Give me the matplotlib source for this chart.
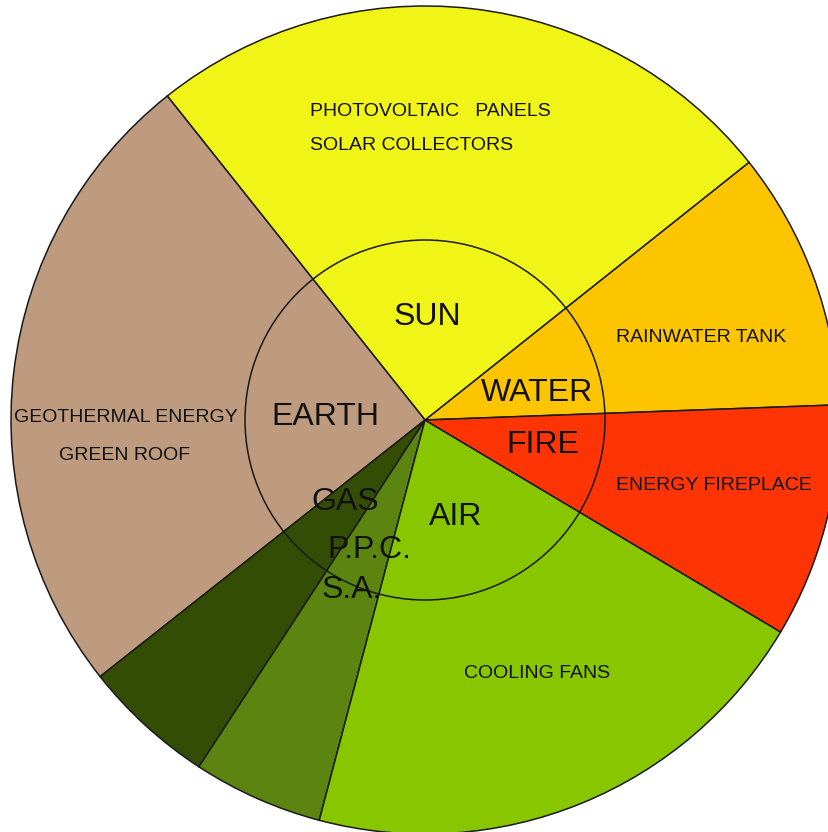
import matplotlib
matplotlib.use("Agg")
import matplotlib.pyplot as plt
from matplotlib.patches import Circle

# Sectors (values in degrees of the pie), counter-clockwise starting from WATER
sectors = ["WATER", "SUN", "EARTH", "GAS", "P.P.C.", "AIR", "FIRE"]
values = [36.4, 90.0, 89.8, 18.6, 18.3, 74.0, 32.9]
colors = ["#FCC500", "#F0F517", "#BE9B7F", "#344D05", "#5B8410", "#88C700", "#FF3404"]
start_angle = 2.1

# Label texts
big_labels = ["SUN", "WATER", "FIRE", "AIR", "EARTH", "GAS", "P.P.C.", "S.A."]
small_labels = ["PHOTOVOLTAIC   PANELS", "SOLAR COLLECTORS", "RAINWATER TANK",
                "ENERGY FIREPLACE", "COOLING FANS", "GEOTHERMAL ENERGY", "GREEN ROOF"]

W, H = 829, 832
fig = plt.figure(figsize=(W / 100, H / 100), dpi=100)
ax = fig.add_axes([0, 0, 1, 1])

cx, cy = 425, H - 420
R = 414
r_inner = 180

ax.pie(values, colors=colors, startangle=start_angle, counterclock=True,
       center=(cx, cy), radius=R, frame=True,
       wedgeprops=dict(edgecolor="#1a1a1a", linewidth=1.1))
ax.add_patch(Circle((cx, cy), r_inner, fill=False, edgecolor="#1a1a1a", linewidth=1.1))

ax.set_xlim(0, W)
ax.set_ylim(0, H)
ax.set_aspect("equal")
ax.axis("off")

fam = ["Liberation Sans", "DejaVu Sans"]
BIG = 23
SMALL = 14

def txt(x, y, s, size, ha="center"):
    ax.text(x, H - y, s, fontsize=size, ha=ha, va="center", family=fam, color="#111111")

# big labels (image coordinates)
big_pos = [(427, 317), (537, 393), (543, 445), (456, 517), (325, 417),
           (345, 502), (369, 550), (352, 590)]
for s, (x, y) in zip(big_labels, big_pos):
    txt(x, y, s, BIG)

# small labels
txt(310, 111, small_labels[0], SMALL, ha="left")
txt(310, 145, small_labels[1], SMALL, ha="left")
txt(701, 337, small_labels[2], SMALL)
txt(714, 486, small_labels[3], SMALL)
txt(537, 673, small_labels[4], SMALL)
txt(126, 418, small_labels[5], SMALL)
txt(125, 456, small_labels[6], SMALL)

fig.savefig("out.png", dpi=100)
